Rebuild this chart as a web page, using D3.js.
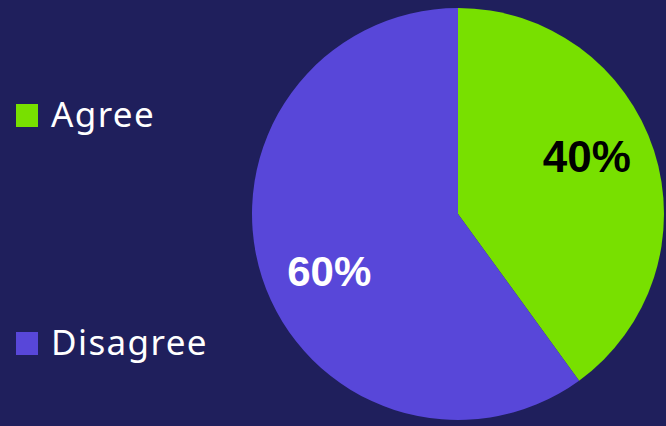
<!DOCTYPE html>
<html><head><meta charset="utf-8">
<script src="https://cdn.jsdelivr.net/npm/d3@7"></script>
<style>html,body{margin:0;padding:0;background:#1f1f5c;}</style>
</head><body>
<svg id="c" width="666" height="426"></svg>
<script>
const categories = ["Agree", "Disagree"];
const values = [40, 60];
const labels = ["40%", "60%"];
const colors = ["#78e000", "#5847d9"];
const labelColors = ["#000000", "#ffffff"];

const svg = d3.select("#c");
svg.append("rect").attr("width",666).attr("height",426).attr("fill","#1f1f5c");
const cx = 458, cy = 214, R = 206;
const g = svg.append("g").attr("transform",`translate(${cx},${cy})`);
const pie = d3.pie().sort(null).value(d=>d)(values);
const arc = d3.arc().innerRadius(0).outerRadius(R);
g.selectAll("path").data(pie).join("path")
  .attr("d",arc).attr("fill",(d,i)=>colors[i]);

const lr = 141, off = -6*Math.PI/180;
g.selectAll("text.lbl").data(pie).join("text").attr("class","lbl")
  .attr("x",d=>{const a=(d.startAngle+d.endAngle)/2+off;return lr*Math.sin(a);})
  .attr("y",d=>{const a=(d.startAngle+d.endAngle)/2+off;return -lr*Math.cos(a);})
  .attr("text-anchor","middle").attr("dominant-baseline","central")
  .attr("font-family","Liberation Sans, Arial, sans-serif").attr("font-weight","bold")
  .attr("font-size",(d,i)=>i===0?44:42)
  .attr("fill",(d,i)=>labelColors[i]).text((d,i)=>labels[i]);

const leg = svg.append("g");
const ly = d3.scalePoint().domain(categories).range([115,343]);
leg.selectAll("rect").data(categories).join("rect")
  .attr("x",16).attr("y",d=>ly(d)-11).attr("width",22).attr("height",23)
  .attr("fill",(d,i)=>colors[i]);
leg.selectAll("text").data(categories).join("text")
  .attr("x",51).attr("y",d=>ly(d)+12)
  .attr("font-family","Noto Sans, sans-serif").attr("font-size",35)
  .attr("letter-spacing",1.4)
  .attr("fill","#ffffff").text(d=>d);
</script>
</body></html>
